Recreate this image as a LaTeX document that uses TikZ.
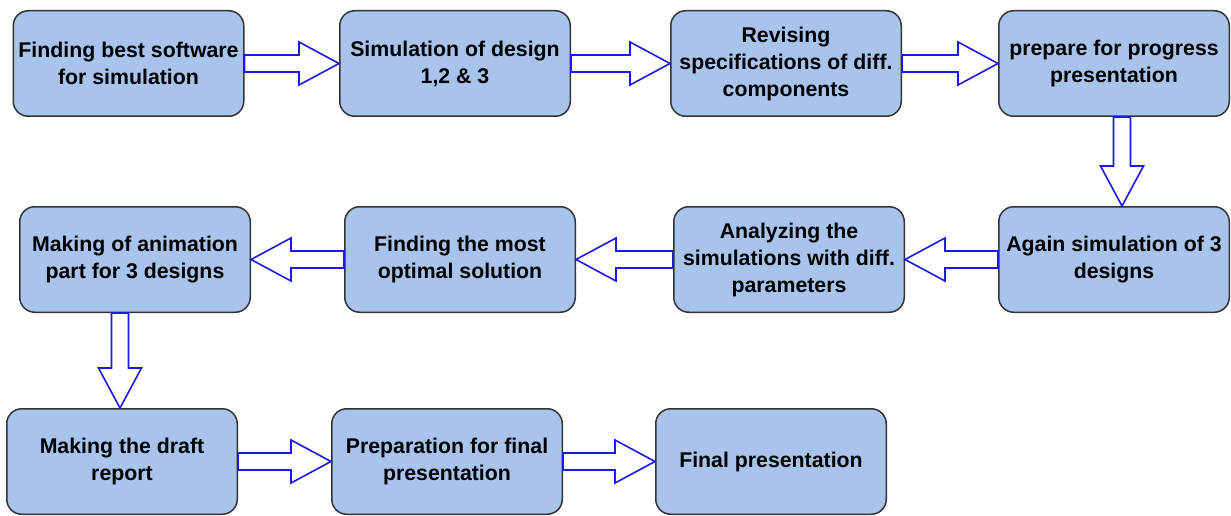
\documentclass[tikz,border=0pt]{standalone}
\usepackage{fontspec}
\setmainfont{Liberation Sans}
\usepackage{tikz}
\usetikzlibrary{positioning,calc}
\definecolor{TaskBlue}{HTML}{A8C4EC}
\definecolor{TaskEdge}{HTML}{333333}
\definecolor{FlowBlue}{HTML}{1A1AE0}
% hollow block arrow from #1 to #2
\newcommand{\flowarrow}[2]{%
  \coordinate (h) at ($(#2)!40pt!(#1)$);
  \draw[hollow] ($(#1)!8.5pt!90:(#2)$) -- ($(h)!8.5pt!90:(#2)$) -- ($(h)!21.5pt!90:(#2)$) -- (#2) -- ($(h)!21.5pt!-90:(#2)$) -- ($(h)!8.5pt!-90:(#2)$) -- ($(#1)!8.5pt!-90:(#2)$) -- cycle;}

\begin{document}
\begin{tikzpicture}[node distance=94.5pt, every node/.style={font=\fontsize{21.3}{27}\selectfont\bfseries}, task/.style={rounded corners=15pt, draw=TaskEdge, line width=1.5pt, fill=TaskBlue, align=center, minimum width=230.5pt, minimum height=105.5pt, inner sep=0pt}, hollow/.style={draw=FlowBlue, fill=white, line width=1.6pt, line join=miter}]
\useasboundingbox (0,0) rectangle (1231pt,-516pt);
\node[task] (b1) at (128.5pt,-63.5pt) {Finding best software\\for simulation};
\node[task, right=of b1] (b2) {Simulation of design\\1,2 \& 3};
\node[task, right=99pt of b2] (b3) {Revising\\specifications of diff.\\components};
\node[task, right=96pt of b3] (b4) {prepare for progress\\presentation};
\node[task, below=89pt of b4] (b5) {Again simulation of 3\\designs};
\node[task, left=93pt of b5] (b6) {Analyzing the\\simulations with diff.\\parameters};
\node[task, left=97pt of b6] (b7) {Finding the most\\optimal solution};
\node[task, left=93pt of b7] (b8) {Making of animation\\part for 3 designs};
\node[task, below=95pt of b8, xshift=-13pt] (b9) {Making the draft\\report};
\node[task, right=93pt of b9] (b10) {Preparation for final\\presentation};
\node[task, right=92pt of b10] (b11) {Final presentation};
\coordinate (d1a) at ([xshift=8pt]b4.south);
\coordinate (d1b) at (d1a |- b5.north);
\coordinate (d2a) at ([xshift=-15pt]b8.south);
\coordinate (d2b) at (d2a |- b9.north);
\foreach \a/\b in {b1/b2,b2/b3,b3/b4,b9/b10,b10/b11}{\flowarrow{\a.east}{\b.west}}
\foreach \a/\b in {b5/b6,b6/b7,b7/b8}{\flowarrow{\a.west}{\b.east}}
\flowarrow{d1a}{d1b}
\flowarrow{d2a}{d2b}
\end{tikzpicture}
\end{document}
